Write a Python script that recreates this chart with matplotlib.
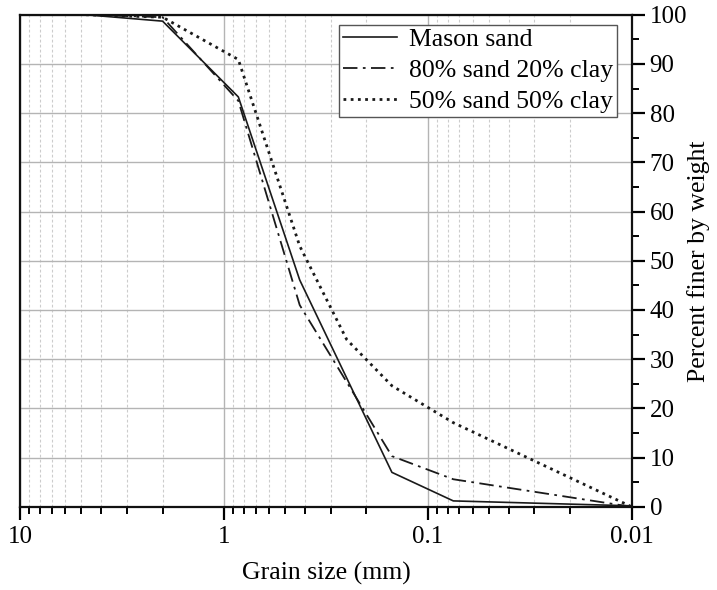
import matplotlib
matplotlib.use("Agg")
import matplotlib.pyplot as plt
from matplotlib.ticker import FixedLocator, FixedFormatter, LogLocator, NullFormatter, MultipleLocator

plt.rcParams['font.family'] = ['Liberation Serif', 'DejaVu Serif']
plt.rcParams['mathtext.fontset'] = 'stix'

# Data (grain size in mm, percent finer by weight)
mason_size = [4.75, 2.0, 0.85, 0.425, 0.15, 0.075, 0.01]
mason_pct = [100.0, 98.7, 83.3, 46.1, 7.0, 1.2, 0.2]

s80_size = [4.75, 2.0, 0.85, 0.425, 0.15, 0.075, 0.01]
s80_pct = [100.0, 99.5, 82.5, 41.0, 10.3, 5.6, 0.0]

s50_size = [4.75, 2.0, 0.85, 0.425, 0.25, 0.15, 0.075, 0.01]
s50_pct = [100.0, 99.5, 90.9, 53.0, 34.0, 24.6, 17.1, 0.0]

labels = ['Mason sand', '80% sand 20% clay', '50% sand 50% clay']
xticks = [10, 1, 0.1, 0.01]
xtick_labels = ['10', '1', '0.1', '0.01']

fig = plt.figure(figsize=(7.17, 5.90), dpi=100)
ax = fig.add_axes([0.028, 0.141, 0.853, 0.834])

lc = '#1a1a1a'
ax.plot(mason_size, mason_pct, color=lc, lw=1.2, ls='-', label=labels[0])
ax.plot(s80_size, s80_pct, color=lc, lw=1.3, ls=(0, (8, 3, 1.5, 3)), label=labels[1])
ax.plot(s50_size, s50_pct, color=lc, lw=2.0, ls=(0, (1, 1.6)), label=labels[2])

ax.set_xscale('log')
ax.set_xlim(10, 0.01)
ax.set_ylim(0, 100)

ax.xaxis.set_major_locator(FixedLocator(xticks))
ax.xaxis.set_major_formatter(FixedFormatter(xtick_labels))
ax.xaxis.set_minor_locator(LogLocator(base=10, subs=range(2, 10)))
ax.xaxis.set_minor_formatter(NullFormatter())

ax.yaxis.tick_right()
ax.yaxis.set_label_position('right')
ax.yaxis.set_major_locator(MultipleLocator(10))
ax.yaxis.set_minor_locator(MultipleLocator(5))

ax.grid(which='major', axis='both', color='#b4b4b4', lw=1.0, ls='-')
ax.grid(which='minor', axis='x', color='#cccccc', lw=0.8, ls=(0, (2.5, 2)))
ax.set_axisbelow(True)

for side in ['left', 'bottom', 'right', 'top']:
    ax.spines[side].set_linewidth(1.6)
    ax.spines[side].set_color('#111111')

ax.tick_params(axis='x', which='major', direction='out', length=9, width=1.6, labelsize=18, pad=5)
ax.tick_params(axis='x', which='minor', direction='out', length=5, width=1.4)
ax.tick_params(axis='y', which='major', direction='out', length=9, width=1.6, labelsize=18, pad=4, right=True, left=False)
ax.tick_params(axis='y', which='minor', direction='out', length=5, width=1.4, right=True, left=False)

ax.set_xlabel('Grain size (mm)', fontsize=18.5, labelpad=10)
ax.set_ylabel('Percent finer by weight', fontsize=18.5, labelpad=0)

leg = ax.legend(loc='upper right', bbox_to_anchor=(0.9755, 0.98), borderaxespad=0,
                fontsize=18.5, frameon=True, fancybox=False,
                edgecolor='#555555', framealpha=1.0, handlelength=2.1,
                handletextpad=0.45, labelspacing=0.3, borderpad=0.15)
leg.get_frame().set_linewidth(1.0)

fig.savefig('out.png', dpi=100)
